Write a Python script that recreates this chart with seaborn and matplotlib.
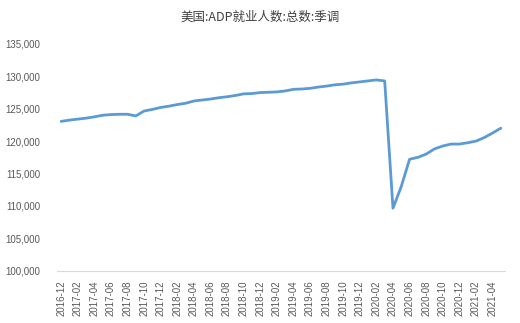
import matplotlib
matplotlib.use("Agg")
import matplotlib.pyplot as plt
import seaborn as sns
import pandas as pd
import numpy as np
from matplotlib.ticker import FixedLocator, FuncFormatter

months = pd.period_range("2016-12", "2021-05", freq="M").strftime("%Y-%m").tolist()
values = [
    123050, 123250, 123400, 123550, 123750, 124000, 124100, 124150, 124150, 123900,
    124650, 124900, 125200, 125400, 125650, 125850, 126200, 126350, 126500, 126700,
    126850, 127050, 127300, 127350, 127500, 127550, 127600, 127750, 128000, 128050,
    128150, 128350, 128500, 128700, 128800, 129000, 129150, 129300, 129450, 129300,
    109650, 113000, 117200, 117500, 118000, 118800, 119250, 119550, 119550, 119750,
    120000, 120550, 121250, 122000,
]
title = "美国:ADP就业人数:总数:季调"
yticks = [100000, 105000, 110000, 115000, 120000, 125000, 130000, 135000]

sns.set_theme(style="white")
plt.rcParams['font.family'] = ['Liberation Sans', 'Noto Sans CJK SC', 'DejaVu Sans']

df = pd.DataFrame({"idx": np.arange(len(months)), "value": values})

fig = plt.figure(figsize=(5.2, 3.23), dpi=100)
ax = fig.add_axes([0.1096, 0.162, 0.8615, 0.7018])
sns.lineplot(data=df, x="idx", y="value", ax=ax, color="#5B9BD5", linewidth=2.0)

ax.set_xlim(-0.5, len(months) - 0.5)
ax.set_ylim(100000, 135000)
ax.set_yticks(yticks)
ax.yaxis.set_major_formatter(FuncFormatter(lambda v, p: f"{int(v):,}"))
ax.tick_params(axis="y", length=0, labelsize=7, labelcolor="#595959", pad=12)

label_idx = list(range(0, len(months), 2))
ax.set_xticks(label_idx)
ax.set_xticklabels([months[i] for i in label_idx], rotation=90)
ax.tick_params(axis="x", which="major", length=0, labelsize=7, labelcolor="#595959", pad=7)
ax.xaxis.set_minor_locator(FixedLocator([i - 0.5 for i in range(0, len(months) + 1, 2)]))
ax.tick_params(axis="x", which="minor", length=5, color="#D9D9D9", width=0.8, direction="out")

ax.set_xlabel("")
ax.set_ylabel("")
for s in ["top", "right", "left"]:
    ax.spines[s].set_visible(False)
ax.spines["bottom"].set_color("#D9D9D9")
ax.spines["bottom"].set_linewidth(0.8)
ax.grid(False)

fig.text(0.5, 0.945, title, ha="center", va="center", fontsize=9, color="#404040",
         family=['Noto Sans CJK SC', 'DejaVu Sans'])

fig.savefig("out.png", dpi=100)
